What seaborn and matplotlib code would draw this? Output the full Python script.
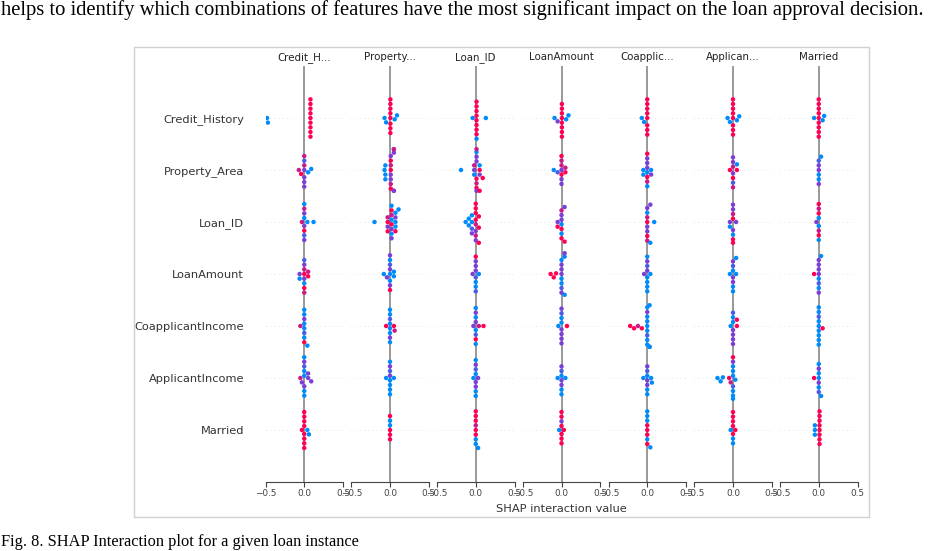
import matplotlib
matplotlib.use('Agg')
import matplotlib.pyplot as plt
from matplotlib.colors import LinearSegmentedColormap
from matplotlib.patches import Rectangle
import seaborn as sns
import pandas as pd

# rows (feature of each beeswarm line) and column titles (interacting feature)
ROWS = ['Credit_History', 'Property_Area', 'Loan_ID', 'LoanAmount',
        'CoapplicantIncome', 'ApplicantIncome', 'Married']
COL_TITLES = ['Credit_H...', 'Property...', 'Loan_ID', 'LoanAmount',
              'Coapplic...', 'Applican...', 'Married']
XTICKS = [-0.5, 0.0, 0.5]

# feature value level of each point: b=low ... r=high
COLOR_LEVELS = {'b': 0.0, 'v': 0.3, 'p': 0.5, 'm': 0.8, 'r': 1.0}

# SHAP interaction values, one list per row
CREDIT_H_VALS = [
    [-0.48, -0.47, 0.08, 0.08, 0.08, 0.08, 0.08, 0.08, 0.08, 0.08, 0.08],
    [-0.07, -0.04, 0.0, 0.0, 0.0, 0.0, 0.0, 0.0, 0.0, 0.05, 0.09],
    [-0.03, 0.0, 0.0, 0.0, 0.0, 0.0, 0.0, 0.0, 0.0, 0.04, 0.12],
    [-0.06, -0.06, 0.0, 0.0, 0.0, 0.0, 0.0, 0.0, 0.0, 0.0, 0.05, 0.05],
    [-0.05, 0.0, 0.0, 0.0, 0.0, 0.0, 0.0, 0.0, 0.0, 0.04],
    [-0.05, -0.03, 0.0, 0.0, 0.0, 0.0, 0.0, 0.0, 0.0, 0.0, 0.05, 0.05, 0.09],
    [-0.03, 0.0, 0.0, 0.0, 0.0, 0.0, 0.0, 0.0, 0.0, 0.04, 0.06],
]
CREDIT_H_CODES = ['bbrrrrrrrrr', 'mrpmpvpmpbb', 'mpbrpvmpbbb', 'pbrpmbprvmrm',
                  'mbbvpbbrbb', 'mpbbpvbpbbppp', 'rrrrrrrrrbb']

PROPERTY_VALS = [
    [-0.07, -0.05, 0.005, 0.005, 0.005, 0.005, 0.005, 0.005, 0.005, 0.005, 0.06, 0.09],
    [-0.07, -0.06, -0.06, -0.06, 0.01, 0.01, 0.01, 0.01, 0.01, 0.01, 0.01, 0.01,
     0.05, 0.05, 0.05, 0.05, 0.05],
    [-0.2, -0.03, -0.03, -0.03, -0.03, 0.02, 0.02, 0.02, 0.02, 0.02, 0.02, 0.02, 0.02,
     0.07, 0.07, 0.07, 0.07, 0.07, 0.11],
    [-0.08, -0.04, 0.0, 0.0, 0.0, 0.0, 0.0, 0.0, 0.0, 0.0, 0.05, 0.05],
    [-0.05, 0.0, 0.0, 0.0, 0.0, 0.0, 0.0, 0.0, 0.0, 0.05, 0.06],
    [-0.05, 0.0, 0.0, 0.0, 0.0, 0.0, 0.0, 0.0, 0.0, 0.05],
    [0.0, 0.0, 0.0, 0.0, 0.0, 0.0],
]
PROPERTY_CODES = ['bbrrrrrrrrbb', 'bbbbrpmprmprpmppm', 'brpmrrbpmbrpbbbpbrb',
                  'bpbpbvpbrpbb', 'rbbbvpbbbrm', 'bbpbvbpbbb', 'rrbrbr']

LOAN_ID_VALS = [
    [-0.04, 0.01, 0.01, 0.01, 0.01, 0.01, 0.01, 0.01, 0.01, 0.01, 0.13],
    [-0.19, -0.02, -0.02, -0.02, 0.01, 0.01, 0.01, 0.01, 0.01, 0.01, 0.01, 0.01,
     0.05, 0.05, 0.05, 0.05, 0.09],
    [-0.13, -0.09, -0.09, -0.05, -0.05, -0.05, -0.05, 0.0, 0.0, 0.0, 0.0, 0.0, 0.0,
     0.0, 0.0, 0.04, 0.04, 0.04],
    [-0.04, 0.0, 0.0, 0.0, 0.0, 0.0, 0.0, 0.0, 0.0, 0.04],
    [-0.03, 0.0, 0.0, 0.0, 0.0, 0.0, 0.0, 0.0, 0.0, 0.04, 0.1],
    [-0.03, 0.0, 0.0, 0.0, 0.0, 0.0, 0.0, 0.0, 0.0, 0.03],
    [0.0, 0.0, 0.0, 0.0, 0.0, 0.0, 0.0, 0.0, 0.03],
]
LOAN_ID_CODES = ['brrrrrrrrbb', 'bpbmrpmprbpmrpbrr', 'bbbbvbpmrprmrprrrr',
                 'pvpbpbpvrb', 'pbpvbrpbbmr', 'bpbpvbpbbp', 'rrmbrrbrb']

LOAN_AMT_VALS = [
    [-0.09, -0.05, 0.005, 0.005, 0.005, 0.005, 0.005, 0.005, 0.005, 0.005, 0.06, 0.09],
    [-0.1, -0.05, 0.0, 0.0, 0.0, 0.0, 0.0, 0.0, 0.0, 0.05, 0.05],
    [-0.05, -0.05, 0.0, 0.0, 0.0, 0.0, 0.0, 0.0, 0.0, 0.04, 0.04],
    [-0.14, -0.1, -0.07, 0.0, 0.0, 0.0, 0.0, 0.0, 0.0, 0.0, 0.0, 0.04, 0.04, 0.04],
    [-0.04, 0.0, 0.0, 0.0, 0.0, 0.0, 0.0, 0.0, 0.0, 0.07],
    [-0.05, 0.0, 0.0, 0.0, 0.0, 0.0, 0.0, 0.0, 0.05],
    [-0.03, 0.0, 0.0, 0.0, 0.0, 0.0, 0.0, 0.0, 0.03],
]
LOAN_AMT_CODES = ['bprrrrrrrrbb', 'bvprmpmprrm', 'prbprpbmrpr', 'rrrpbpbpvbpbpb',
                  'bpbpbpvppr', 'bpbpvbpbb', 'brrrprrrr']

COAPP_VALS = [
    [-0.07, -0.04, 0.0, 0.0, 0.0, 0.0, 0.0, 0.0, 0.0, 0.0],
    [-0.05, -0.05, 0.0, 0.0, 0.0, 0.0, 0.0, 0.0, 0.0, 0.0, 0.05, 0.05],
    [0.0, 0.0, 0.0, 0.0, 0.0, 0.0, 0.0, 0.0, 0.04, 0.04, 0.09],
    [-0.04, 0.0, 0.0, 0.0, 0.0, 0.0, 0.0, 0.0, 0.0, 0.04],
    [-0.22, -0.17, -0.12, -0.07, 0.0, 0.0, 0.0, 0.0, 0.0, 0.0, 0.0, 0.0, 0.0,
     0.03, 0.03, 0.03],
    [-0.05, 0.0, 0.0, 0.0, 0.0, 0.0, 0.0, 0.0, 0.05, 0.06],
    [0.0, 0.0, 0.0, 0.0, 0.0, 0.0, 0.0, 0.0, 0.04],
]
COAPP_CODES = ['bbrrrrrrrr', 'bbbprpmpbrbp', 'rpmpbrpmpbb', 'pbpbvbpbbb',
               'rrmrbbbvbbpbbbbb', 'bpbpvbpbbb', 'rrrbbbrbb']

APPLIC_VALS = [
    [-0.07, -0.04, 0.0, 0.0, 0.0, 0.0, 0.0, 0.0, 0.0, 0.0, 0.05, 0.08],
    [-0.04, 0.0, 0.0, 0.0, 0.0, 0.0, 0.0, 0.0, 0.05, 0.05],
    [-0.04, -0.04, 0.0, 0.0, 0.0, 0.0, 0.0, 0.0, 0.0, 0.0, 0.04],
    [-0.04, 0.0, 0.0, 0.0, 0.0, 0.0, 0.0, 0.0, 0.04, 0.04],
    [-0.03, 0.0, 0.0, 0.0, 0.0, 0.0, 0.0, 0.0, 0.05, 0.05],
    [-0.2, -0.16, -0.13, -0.05, -0.03, 0.0, 0.0, 0.0, 0.0, 0.0, 0.0, 0.0, 0.0, 0.0,
     0.03],
    [-0.03, 0.0, 0.0, 0.0, 0.0, 0.0, 0.0, 0.0, 0.03],
]
APPLIC_CODES = ['bbrrrrrrrrbb', 'rpmrpvpmrb', 'pbrpmbprprp', 'bpbpvbpbbb',
                'bpbpbpvprr', 'bbbrmbbvbbpbrbb', 'brrbrrbrr']

MARRIED_VALS = [
    [-0.06, 0.0, 0.0, 0.0, 0.0, 0.0, 0.0, 0.0, 0.0, 0.0, 0.05, 0.07],
    [0.0, 0.0, 0.0, 0.0, 0.0, 0.0, 0.03],
    [-0.03, 0.0, 0.0, 0.0, 0.0, 0.0, 0.0, 0.0, 0.0],
    [-0.06, 0.0, 0.0, 0.0, 0.0, 0.0, 0.0, 0.0, 0.0, 0.03],
    [0.0, 0.0, 0.0, 0.0, 0.0, 0.0, 0.0, 0.0, 0.0, 0.05],
    [-0.06, 0.0, 0.0, 0.0, 0.0, 0.0, 0.0, 0.0, 0.03],
    [-0.05, -0.05, -0.05, 0.01, 0.01, 0.01, 0.01, 0.01, 0.01, 0.01, 0.01],
]
MARRIED_CODES = ['brrrrrrrrrbb', 'pbpbvpb', 'pbbmrrmbr', 'rpbpvpbppb',
                 'bbbbvbbbbr', 'rbpbbpvbb', 'bbbrrrrrrrr']

COLUMNS = [(CREDIT_H_VALS, CREDIT_H_CODES), (PROPERTY_VALS, PROPERTY_CODES),
           (LOAN_ID_VALS, LOAN_ID_CODES), (LOAN_AMT_VALS, LOAN_AMT_CODES),
           (COAPP_VALS, COAPP_CODES), (APPLIC_VALS, APPLIC_CODES),
           (MARRIED_VALS, MARRIED_CODES)]

TOP_TEXT = ('helps to identify which combinations of features have the most '
            'significant impact on the loan approval decision.')
CAPTION = 'Fig. 8. SHAP Interaction plot for a given loan instance'

plt.rcParams['font.family'] = ['DejaVu Sans']

red_blue = LinearSegmentedColormap.from_list('red_blue', ['#008bfb', '#7a3fd8', '#ff0052'])

W, H = 933, 551
fig = plt.figure(figsize=(W / 100, H / 100), dpi=100)
fig.patch.set_facecolor('white')


def px_rect(x, y, w, h):
    # pixel box (from top-left) -> figure fraction
    return [x / W, 1 - (y + h) / H, w / W, h / H]


axis_color = '#444444'

for k, (vals, codes) in enumerate(COLUMNS):
    recs = []
    for row, v, c in zip(ROWS, vals, codes):
        for val, ch in zip(v, c):
            recs.append({'row': row, 'value': val, 'level': COLOR_LEVELS[ch]})
    df = pd.DataFrame(recs)

    ax = fig.add_axes(px_rect(265.5 + 85.75 * k, 66, 77.5, 416))
    sns.swarmplot(data=df, x='value', y='row', hue='level', order=ROWS,
                  palette=red_blue, hue_norm=(0, 1), orient='h', size=3.2,
                  linewidth=0, legend=False, warn_thresh=1.0, ax=ax, zorder=3)

    ax.axvline(0, color='#999999', lw=1.4, zorder=1)
    for pos in range(len(ROWS)):
        ax.axhline(pos, color='#cccccc', lw=0.5, dashes=(1, 5), zorder=0)

    ax.set_xlim(-0.5, 0.5)
    ax.set_ylim(len(ROWS), -1)
    for side in ['left', 'top', 'right']:
        ax.spines[side].set_visible(False)
    ax.spines['bottom'].set_color(axis_color)
    ax.spines['bottom'].set_linewidth(0.8)
    ax.set_facecolor('white')

    ax.set_xticks(XTICKS)
    ax.tick_params(axis='x', bottom=True, length=3.5, width=0.8, color=axis_color,
                   labelcolor=axis_color, labelsize=6.4, pad=1.5)
    if k == 0:
        ax.set_yticks(range(len(ROWS)))
        ax.set_yticklabels(ROWS)
        ax.tick_params(axis='y', left=False, length=0, pad=15.5,
                       labelsize=8.2, labelcolor='#333333')
    else:
        ax.set_yticks([])
    ax.set_ylabel('')
    ax.set_xlabel('')
    ax.set_title(COL_TITLES[k], fontsize=7.4, pad=4, color='#222222')
    if k == 3:
        ax.set_xlabel('SHAP interaction value', fontsize=8.2, labelpad=4,
                      color='#333333')

# frame around the chart image
fig.add_artist(Rectangle((134 / W, 1 - 516.7 / H), (869 - 134) / W, (516.7 - 47) / H,
                         transform=fig.transFigure, fill=False, ec='#d0d0d0', lw=1))

fig.text(1 / W, 1 - 15 / H, TOP_TEXT, family='Liberation Serif', fontsize=14.85,
         ha='left', va='baseline', color='black')
fig.text(1 / W, 1 - 546 / H, CAPTION, family='Liberation Serif', fontsize=11.8,
         ha='left', va='baseline', color='black')

fig.savefig('out.png', dpi=100)
plt.close(fig)
